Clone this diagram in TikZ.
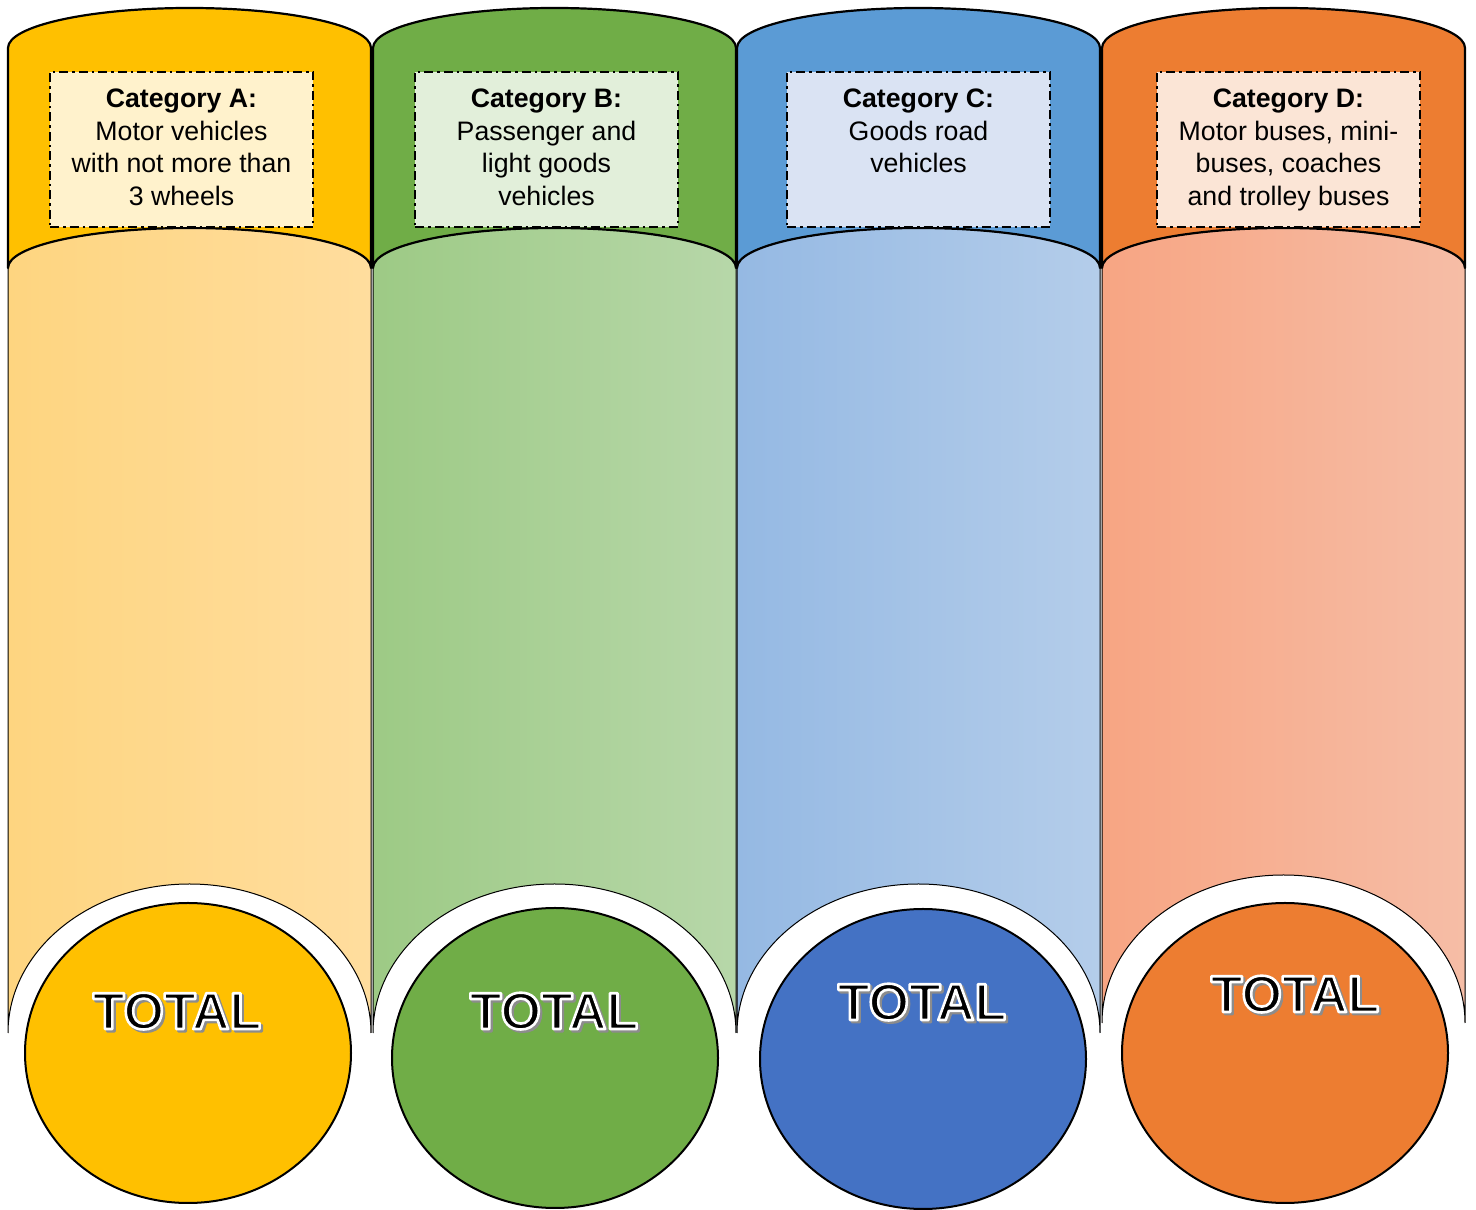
\documentclass[tikz,border=0pt]{standalone}
\usepackage{fontspec}
\setmainfont{Liberation Sans}
\usetikzlibrary{shapes.geometric}
\definecolor{capA}{HTML}{FFC000}\definecolor{boxA}{HTML}{FFF2CC}
\definecolor{bodyAl}{HTML}{FED580}\definecolor{bodyAr}{HTML}{FFDD9E}
\definecolor{capB}{HTML}{70AD47}\definecolor{boxB}{HTML}{E2EFDA}
\definecolor{bodyBl}{HTML}{9DCA85}\definecolor{bodyBr}{HTML}{B7D7A9}
\definecolor{capC}{HTML}{5B9BD5}\definecolor{boxC}{HTML}{DAE3F3}
\definecolor{bodyCl}{HTML}{95B9E3}\definecolor{bodyCr}{HTML}{B4CDEA}
\definecolor{circC}{HTML}{4472C4}
\definecolor{capD}{HTML}{ED7D31}\definecolor{boxD}{HTML}{FBE5D6}
\definecolor{bodyDl}{HTML}{F7A583}\definecolor{bodyDr}{HTML}{F6BDA6}
\definecolor{shadowgray}{HTML}{8C8C8C}
\newcommand{\rendertext}[3]{\special{pdf:literal direct 2 Tr #2 w 1 j #1 RG}#3\special{pdf:literal direct 0 Tr}}
\newcommand{\totalword}{\makebox[0pt][l]{\hspace*{2.2pt}\raisebox{-2.2pt}{\color{shadowgray}\rendertext{0.549 0.549 0.549}{2.6}{TOTAL}}}\rendertext{1 1 1}{2.6}{TOTAL}}
\newcommand{\drawcolumn}[6]{%
  \pgfmathsetmacro{\colL}{#1}\pgfmathsetmacro{\colR}{#1+363}%
  \path[left color=#3, right color=#4] (\colL,942) arc[start angle=180,end angle=0,x radius=181.5pt,y radius=40pt] -- (\colR,#5) arc[start angle=0,end angle=180,x radius=181.5pt,y radius=#6pt] -- cycle;
  \draw[thinline] (\colR,942) -- (\colR,#5) arc[start angle=0,end angle=180,x radius=181.5pt,y radius=#6pt] -- (\colL,942);
  \draw[capline, fill=#2] (\colL,942) -- (\colL,1162) arc[start angle=180,end angle=0,x radius=181.5pt,y radius=40pt] -- (\colR,942) arc[start angle=0,end angle=180,x radius=181.5pt,y radius=40pt] -- cycle;
}
\tikzset{
  thinline/.style={draw=black, line width=1pt},
  capline/.style={draw=black, line width=2.2pt, line join=round},
  catbox/.style={draw=black, line width=2.4pt, dash pattern=on 9pt off 4pt on 2.5pt off 4pt, minimum width=263pt, minimum height=155pt, inner sep=0pt},
  cattext/.style={font=\fontsize{26.7pt}{32.7pt}\selectfont, align=center, inner sep=0pt, anchor=north, text=black},
  circ/.style={ellipse, draw=black, line width=2pt, minimum width=326pt, minimum height=300pt, inner sep=0pt},
  totaltext/.style={font=\fontsize{52pt}{60pt}\selectfont\bfseries, inner sep=0pt, anchor=base, text=black}
}
\begin{document}
\begin{tikzpicture}[x=1pt,y=1pt]
\useasboundingbox (0,0) rectangle (1476,1210);
\fill[white] (0,0) rectangle (1476,1210);
\drawcolumn{8}{capA}{bodyAl}{bodyAr}{177}{149}
\drawcolumn{373}{capB}{bodyBl}{bodyBr}{177}{149}
\drawcolumn{737}{capC}{bodyCl}{bodyCr}{177}{149}
\drawcolumn{1102}{capD}{bodyDl}{bodyDr}{187}{148}
\node[circ, fill=capA] (circA) at (188,157) {};
\node[circ, fill=capB] (circB) at (555,152) {};
\node[circ, fill=circC] (circC) at (923,151) {};
\node[circ, fill=capD] (circD) at (1285,157) {};
\node[catbox, fill=boxA] (boxA) at (181.5,1060.5) {};
\node[catbox, fill=boxB] (boxB) at (546.5,1060.5) {};
\node[catbox, fill=boxC] (boxC) at (918.5,1060.5) {};
\node[catbox, fill=boxD] (boxD) at (1288.5,1060.5) {};
\node[cattext] (txtA) at (181.5,1121.5) {\textbf{Category A:}\\Motor vehicles\\with not more than\\3 wheels};
\node[cattext] (txtB) at (546.5,1121.5) {\textbf{Category B:}\\Passenger and\\light goods\\vehicles};
\node[cattext] (txtC) at (918.5,1121.5) {\textbf{Category C:}\\Goods road\\vehicles};
\node[cattext] (txtD) at (1288.5,1121.5) {\textbf{Category D:}\\Motor buses, mini-\\buses, coaches\\and trolley buses};
\node[totaltext] (totA) at (177,181) {\totalword};
\node[totaltext] (totB) at (554,181) {\totalword};
\node[totaltext] (totC) at (922,190) {\totalword};
\node[totaltext] (totD) at (1295,198) {\totalword};
\end{tikzpicture}
\end{document}
